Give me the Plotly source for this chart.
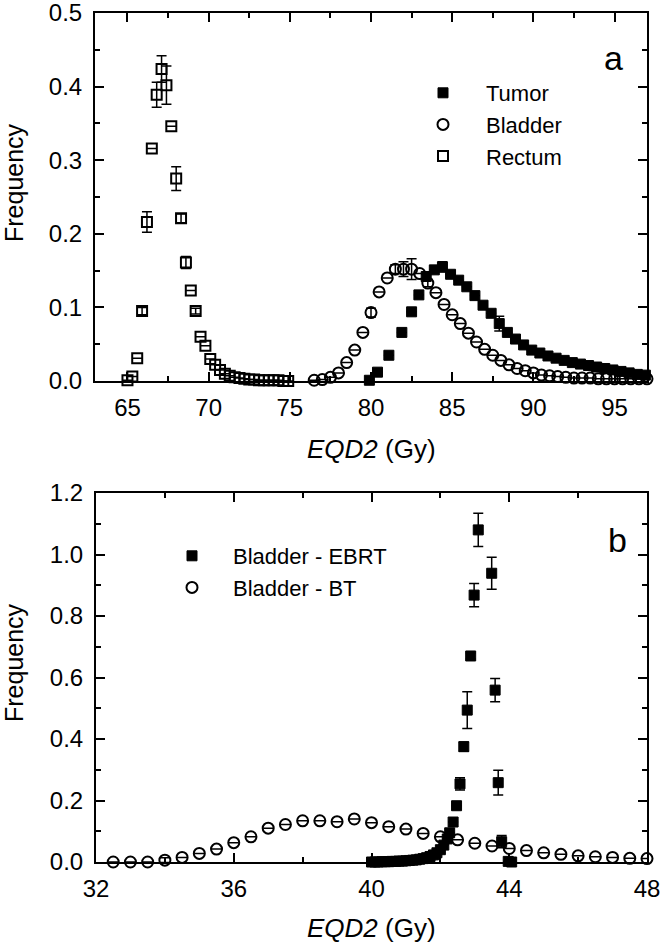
import plotly.graph_objects as go

# ---------------- Panel a data ----------------
tumor_x = [79.9, 80.4, 81.1, 81.9, 82.5, 82.95, 83.4, 83.9, 84.4, 84.9, 85.4, 85.9, 86.4, 86.9,
           87.4, 87.9, 88.4, 88.9, 89.4, 89.9, 90.4, 90.9, 91.4, 91.9, 92.4, 92.9, 93.4, 93.9,
           94.4, 94.9, 95.4, 95.9, 96.4, 96.9]
tumor_y = [0.001, 0.012, 0.035, 0.066, 0.094, 0.117, 0.142, 0.151, 0.155, 0.145, 0.137, 0.128,
           0.116, 0.103, 0.092, 0.078, 0.066, 0.057, 0.049, 0.042, 0.038, 0.034, 0.031, 0.028,
           0.025, 0.023, 0.021, 0.019, 0.017, 0.015, 0.013, 0.011, 0.009, 0.008]
tumor_err = [0, 0, 0, 0, 0, 0, 0.003, 0, 0.007, 0, 0, 0, 0, 0,
             0, 0.010, 0, 0, 0, 0, 0, 0, 0, 0, 0, 0, 0, 0, 0, 0, 0, 0, 0, 0]

bladder_x = [76.5, 77.0, 77.5, 78.0, 78.5, 79.0, 79.5, 80.0, 80.5, 81.0, 81.5, 82.0, 82.5, 83.0,
             83.5, 84.0, 84.5, 85.0, 85.5, 86.0, 86.5, 87.0, 87.5, 88.0, 88.5, 89.0, 89.5, 90.0,
             90.5, 91.0, 91.5, 92.0, 92.5, 93.0, 93.5, 94.0, 94.5, 95.0, 95.5, 96.0, 96.5, 97.0]
bladder_y = [0.001, 0.002, 0.005, 0.011, 0.025, 0.042, 0.066, 0.093, 0.121, 0.140, 0.152, 0.152,
             0.152, 0.146, 0.133, 0.120, 0.104, 0.090, 0.078, 0.065, 0.053, 0.043, 0.035, 0.028,
             0.022, 0.017, 0.014, 0.011, 0.008, 0.007, 0.006, 0.005, 0.004, 0.004, 0.004, 0.003,
             0.003, 0.003, 0.003, 0.003, 0.003, 0.003]
bladder_err = [0, 0, 0, 0, 0, 0, 0, 0.006, 0, 0, 0.006, 0.010, 0.014, 0,
               0.005, 0, 0, 0, 0, 0, 0, 0, 0, 0, 0, 0, 0, 0,
               0, 0, 0, 0, 0, 0, 0, 0, 0, 0, 0, 0, 0, 0]

rectum_x = [65.0, 65.3, 65.6, 65.9, 66.2, 66.5, 66.8, 67.1, 67.4, 67.7, 68.0, 68.3, 68.6, 68.9,
            69.2, 69.5, 69.8, 70.1, 70.4, 70.7, 71.0, 71.3, 71.6, 71.9, 72.2, 72.5, 72.8, 73.1,
            73.4, 73.7, 74.0, 74.3, 74.6, 74.9]
rectum_y = [0.001, 0.006, 0.031, 0.095, 0.216, 0.316, 0.389, 0.424, 0.402, 0.346, 0.275, 0.221,
            0.161, 0.123, 0.095, 0.060, 0.048, 0.030, 0.022, 0.015, 0.010, 0.007, 0.005, 0.004,
            0.003, 0.002, 0.002, 0.001, 0.001, 0.001, 0.001, 0.001, 0.000, 0.000]
rectum_err = [0, 0, 0, 0.005, 0.014, 0, 0.017, 0.018, 0.026, 0, 0.016, 0.006,
              0.008, 0, 0.004, 0, 0, 0, 0, 0, 0, 0, 0, 0, 0, 0, 0, 0, 0, 0, 0, 0, 0, 0]

# ---------------- Panel b data ----------------
ebrt_x = [40.0, 40.1, 40.2, 40.3, 40.4, 40.5, 40.6, 40.7, 40.8, 40.9, 41.0, 41.1, 41.2, 41.3,
          41.4, 41.5, 41.6, 41.7, 41.8, 41.9, 42.0, 42.1, 42.2, 42.27, 42.37, 42.47, 42.57,
          42.68, 42.78, 42.88, 42.98, 43.1, 43.49, 43.59, 43.68, 43.78, 43.97, 44.07]
ebrt_y = [0.000, 0.000, 0.000, 0.001, 0.001, 0.001, 0.002, 0.002, 0.003, 0.003, 0.004, 0.005,
          0.006, 0.007, 0.009, 0.011, 0.014, 0.018, 0.023, 0.030, 0.040, 0.055, 0.075, 0.095,
          0.130, 0.183, 0.254, 0.375, 0.494, 0.670, 0.868, 1.080, 0.939, 0.559, 0.258, 0.066,
          0.002, 0.000]
ebrt_err = [0, 0, 0, 0, 0, 0, 0, 0, 0, 0, 0, 0, 0, 0, 0, 0, 0, 0, 0, 0, 0, 0, 0, 0,
            0, 0, 0.020, 0.015, 0.060, 0.010, 0.038, 0.054, 0.052, 0.038, 0.040, 0.020, 0, 0]

bt_x = [32.5, 33.0, 33.5, 34.0, 34.5, 35.0, 35.5, 36.0, 36.5, 37.0, 37.5, 38.0, 38.5, 39.0,
        39.5, 40.0, 40.5, 41.0, 41.5, 42.0, 42.5, 43.0, 43.5, 44.0, 44.5, 45.0, 45.5, 46.0,
        46.5, 47.0, 47.5, 48.0]
bt_y = [0.000, 0.000, 0.000, 0.006, 0.015, 0.028, 0.042, 0.063, 0.082, 0.110, 0.122, 0.134,
        0.134, 0.131, 0.140, 0.128, 0.115, 0.107, 0.093, 0.082, 0.072, 0.061, 0.052, 0.044,
        0.037, 0.030, 0.025, 0.020, 0.017, 0.015, 0.012, 0.011]
bt_err = [0, 0, 0, 0.008, 0, 0, 0, 0, 0, 0, 0, 0, 0, 0, 0, 0, 0, 0, 0, 0, 0, 0, 0, 0,
          0, 0, 0, 0, 0, 0, 0, 0]

W, H = 663, 945
FONT = "Liberation Sans, Arial, sans-serif"


def px(xp):
    return xp / W


def py(yp):
    return 1 - yp / H


def err(a):
    return dict(type="data", array=a, visible=True, color="black", thickness=1.5, width=5)


fig = go.Figure()

fig.add_trace(go.Scatter(x=tumor_x, y=tumor_y, mode="markers", name="Tumor",
                         marker=dict(symbol="square", size=10, color="black",
                                     line=dict(color="black", width=1)),
                         error_y=err(tumor_err), cliponaxis=False, xaxis="x", yaxis="y",
                         legend="legend"))
fig.add_trace(go.Scatter(x=bladder_x, y=bladder_y, mode="markers", name="Bladder",
                         marker=dict(symbol="circle-open", size=11, color="black",
                                     line=dict(color="black", width=2)),
                         error_y=err(bladder_err), cliponaxis=False, xaxis="x", yaxis="y",
                         legend="legend"))
fig.add_trace(go.Scatter(x=rectum_x, y=rectum_y, mode="markers", name="Rectum",
                         marker=dict(symbol="square-open", size=10, color="black",
                                     line=dict(color="black", width=2)),
                         error_y=err(rectum_err), cliponaxis=False, xaxis="x", yaxis="y",
                         legend="legend"))

fig.add_trace(go.Scatter(x=ebrt_x, y=ebrt_y, mode="markers", name="Bladder - EBRT",
                         marker=dict(symbol="square", size=10, color="black",
                                     line=dict(color="black", width=1)),
                         error_y=err(ebrt_err), cliponaxis=False, xaxis="x2", yaxis="y2",
                         legend="legend2"))
fig.add_trace(go.Scatter(x=bt_x, y=bt_y, mode="markers", name="Bladder - BT",
                         marker=dict(symbol="circle-open", size=11, color="black",
                                     line=dict(color="black", width=2)),
                         error_y=err(bt_err), cliponaxis=False, xaxis="x2", yaxis="y2",
                         legend="legend2"))

axis_common = dict(showline=True, linecolor="black", linewidth=2, mirror="allticks",
                   ticks="inside", ticklen=9, tickwidth=2, tickcolor="black",
                   showgrid=False, zeroline=False, automargin=False,
                   ticklabeloverflow="allow",
                   tickfont=dict(family=FONT, size=24, color="black"))
minor_common = dict(ticks="inside", ticklen=5, tickwidth=2, tickcolor="black")

fig.update_layout(
    template="none",
    width=W, height=H, margin=dict(l=0, r=0, t=0, b=0, pad=0),
    paper_bgcolor="white", plot_bgcolor="white",
    font=dict(family=FONT, color="black"),
    xaxis=dict(domain=[px(95), px(647)], range=[63, 97], dtick=5, tick0=0,
               minor=dict(dtick=2.5, **minor_common),
               anchor="y", ticklabelstandoff=4, **axis_common),
    yaxis=dict(domain=[py(381), py(13)], range=[0, 0.5], dtick=0.1, tickformat=".1f",
               minor=dict(dtick=0.05, **minor_common),
               anchor="x", ticklabelstandoff=6, **axis_common),
    xaxis2=dict(domain=[px(96), px(647)], range=[32, 48], dtick=4, tick0=0,
                minor=dict(dtick=2, **minor_common),
                anchor="y2", ticklabelstandoff=4, **axis_common),
    yaxis2=dict(domain=[py(862), py(493)], range=[0, 1.2], dtick=0.2, tickformat=".1f",
                minor=dict(dtick=0.1, **minor_common),
                anchor="x2", ticklabelstandoff=6, **axis_common),
    legend=dict(x=px(400), y=py(72), xanchor="left", yanchor="top", itemwidth=76,
                bgcolor="rgba(0,0,0,0)", borderwidth=0,
                font=dict(family=FONT, size=22, color="black"), tracegroupgap=0),
    legend2=dict(x=px(151), y=py(535), xanchor="left", yanchor="top", itemwidth=72,
                 bgcolor="rgba(0,0,0,0)", borderwidth=0,
                 font=dict(family=FONT, size=22, color="black"), tracegroupgap=0),
)


def anno(text, x, y, size, angle=0):
    return dict(text=text, x=px(x), y=py(y), xref="paper", yref="paper", showarrow=False,
                xanchor="center", yanchor="middle", textangle=angle,
                font=dict(family=FONT, size=size, color="black"))


fig.update_layout(annotations=[
    anno("a", 613, 58, 34),
    anno("b", 617, 540, 34),
    anno("Frequency", 14, 183, 25, -90),
    anno("Frequency", 14, 663, 25, -90),
    anno("<i>EQD2</i> (Gy)", 371, 449, 26),
    anno("<i>EQD2</i> (Gy)", 371, 928, 26),
])

fig.write_html("out.html", config={"displayModeBar": False},
               post_script="document.body.style.margin='0px';"
                           "document.body.style.overflow='hidden';")
